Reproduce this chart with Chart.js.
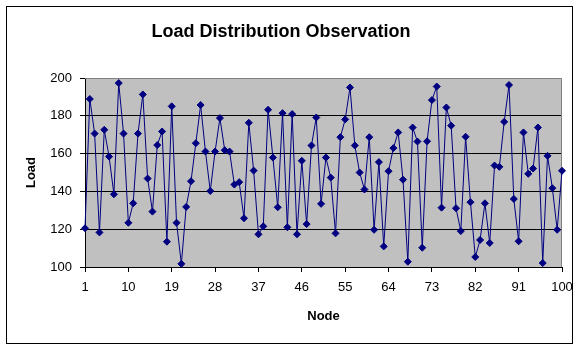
<!DOCTYPE html>
<html>
<head>
<meta charset="utf-8">
<title>Load Distribution Observation</title>
<script src="https://cdn.jsdelivr.net/npm/chart.js@4/dist/chart.umd.min.js"></script>
<style>
	body { margin: 0; background: #fff; }
	canvas { display: block; }
</style>
</head>
<body>
<canvas id="myChart-load" width="581" height="351"></canvas>
<script>
const nodes = Array.from({ length: 100 }, (_, i) => String(i + 1));
const xTickLabels = ["1", "10", "19", "28", "37", "46", "55", "64", "73", "82", "91", "100"];
const yTicks = [100, 120, 140, 160, 180, 200];
const loads = [
	120.5, 188.9, 170.6, 118.3, 172.6, 158.4, 138.5, 197.3, 170.6, 123.4,
	133.7, 170.6, 191.3, 146.8, 129.3, 164.5, 171.7, 113.4, 185.0, 123.4,
	101.7, 131.8, 145.4, 165.5, 185.7, 161.1, 140.2, 161.1, 178.8, 161.8,
	161.1, 143.6, 144.9, 125.8, 176.3, 151.0, 117.3, 121.5, 183.2, 157.9,
	131.6, 181.4, 121.0, 180.9, 117.3, 156.2, 122.7, 164.3, 179.1, 133.4,
	157.9, 147.3, 117.8, 168.7, 178.1, 195.0, 164.3, 150.0, 141.0, 168.7,
	119.7, 155.5, 110.9, 150.7, 162.9, 171.2, 146.2, 102.8, 173.8, 166.4,
	110.2, 166.5, 188.3, 195.5, 131.4, 184.4, 174.8, 131.1, 119.0, 168.9,
	134.3, 105.3, 114.3, 133.7, 112.7, 153.7, 153.0, 176.8, 196.3, 136.0,
	113.6, 171.2, 149.3, 152.1, 173.8, 102.1, 158.8, 141.7, 119.7, 150.9,
];

document.addEventListener("DOMContentLoaded", () => {
	// grey plot area, grey top/right edge, black frame round the whole chart
	const excelFrame = {
		id: "excelFrame",
		beforeDraw(chart) {
			let ctx = chart.ctx;
			let a = chart.chartArea;
			ctx.save();
			ctx.fillStyle = "#fff";
			ctx.fillRect(0, 0, chart.width, chart.height);
			ctx.strokeStyle = "#000";
			ctx.lineWidth = 1;
			ctx.strokeRect(6.5, 6.5, 566, 337);
			ctx.fillStyle = "#c0c0c0";
			ctx.fillRect(a.left, a.top, a.right - a.left, a.bottom - a.top);
			ctx.restore();
		},
		beforeDatasetsDraw(chart) {
			let ctx = chart.ctx;
			let a = chart.chartArea;
			ctx.save();
			ctx.strokeStyle = "#808080";
			ctx.lineWidth = 1;
			ctx.beginPath();
			ctx.moveTo(a.left, Math.round(a.top) + 0.5);
			ctx.lineTo(Math.round(a.right) - 0.5, Math.round(a.top) + 0.5);
			ctx.lineTo(Math.round(a.right) - 0.5, a.bottom);
			ctx.stroke();
			ctx.restore();
		},
	};

	let chartLoad = document.getElementById("myChart-load").getContext("2d");
	let LoadChart = new Chart(chartLoad, {
		type: "line",
		data: {
			labels: nodes,
			datasets: [
				{
					label: "Load",
					data: loads,
					borderColor: "#000080",
					backgroundColor: "#000080",
					borderWidth: 1,
					pointStyle: "rectRot",
					pointRadius: 3.5,
					pointBorderWidth: 1,
					pointBorderColor: "#000080",
					pointBackgroundColor: "#000080",
					tension: 0,
					fill: false,
					clip: false,
				},
			],
		},
		options: {
			responsive: false,
			animation: false,
			layout: {
				padding: { left: 0, right: 19, top: 0, bottom: 0 },
			},
			plugins: {
				legend: { display: false },
				tooltip: { enabled: false },
				title: {
					display: true,
					text: "Load Distribution Observation",
					color: "#000",
					font: { family: "'Liberation Sans', Arial, sans-serif", size: 18, weight: "bold", lineHeight: 1 },
					padding: { top: 23, bottom: 37 },
				},
			},
			scales: {
				x: {
					type: "category",
					offset: false,
					afterFit: (scale) => {
						scale.height = 84;
						scale.paddingLeft = 0;
						scale.paddingRight = 0;
					},
					border: { display: true, color: "#000", width: 1 },
					grid: {
						drawOnChartArea: false,
						drawTicks: true,
						tickLength: 5,
						tickColor: (ctx) => (ctx.index % 9 === 0 ? "#000" : "rgba(0,0,0,0)"),
					},
					ticks: {
						autoSkip: false,
						maxRotation: 0,
						minRotation: 0,
						padding: 8,
						color: "#000",
						font: { family: "'Liberation Sans', Arial, sans-serif", size: 13 },
						callback: function (value, index) {
							let lbl = this.getLabelForValue(value);
							return xTickLabels.includes(lbl) ? lbl : "";
						},
					},
					title: {
						display: true,
						text: "Node",
						color: "#000",
						font: { family: "'Liberation Sans', Arial, sans-serif", size: 13, weight: "bold", lineHeight: 1 },
						padding: { top: 0, bottom: 28 },
					},
				},
				y: {
					min: yTicks[0],
					max: yTicks[yTicks.length - 1],
					afterFit: (scale) => {
						scale.width = 85;
						scale.paddingTop = 0;
						scale.paddingBottom = 0;
					},
					afterBuildTicks: (scale) => {
						scale.ticks = yTicks.map((v) => ({ value: v }));
					},
					border: { display: true, color: "#000", width: 1 },
					grid: {
						color: (ctx) => (ctx.tick && ctx.tick.value === 200 ? "rgba(0,0,0,0)" : "#000"),
						tickColor: "#000",
						tickLength: 5,
						lineWidth: 1,
					},
					ticks: {
						padding: 8,
						color: "#000",
						font: { family: "'Liberation Sans', Arial, sans-serif", size: 13 },
					},
					title: {
						display: true,
						text: "Load",
						color: "#000",
						font: { family: "'Liberation Sans', Arial, sans-serif", size: 13, weight: "bold", lineHeight: 1 },
						padding: { top: 25, bottom: 0 },
					},
				},
			},
		},
		plugins: [excelFrame],
	});
});
</script>
</body>
</html>
